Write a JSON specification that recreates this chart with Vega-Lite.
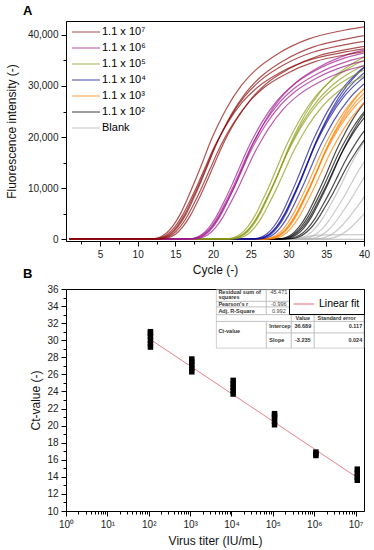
{
  "$schema": "https://vega.github.io/schema/vega-lite/v6.json",
  "padding": {"left": 4, "top": 4, "right": 4, "bottom": 2},
  "spacing": -9,
  "resolve": {"scale": {"color": "independent"}, "legend": {"color": "independent"}},
  "config": {
    "font": "Liberation Sans",
    "view": {"stroke": "black", "strokeWidth": 1},
    "axis": {"grid": false, "domainColor": "black", "tickColor": "black", "labelColor": "#222", "titleColor": "#111", "labelFontSize": 10, "titleFontSize": 12, "titleFontWeight": "normal", "labelOverlap": false, "labelFlush": false},
    "title": {"fontSize": 13, "fontWeight": "bold", "anchor": "start", "frame": "group", "color": "black"}
  },
  "datasets": {
    "curves": [
      {"g":"Blank","id":"g6","x":[1,40],"y":[0,0]},
      {"g":"Blank","id":"g7","x":[1,31,33,35,40],"y":[100,100,700,900,950]},
      {"g":"Blank","id":"g1","x":[1,30.5,31.5,32.5,33.5,34.5,35.5,36.5,37.5,38.5,39.5,40.5],"y":[100,100,260,850,2130,4080,6630,9350,12330,15300,17850,20150]},
      {"g":"Blank","id":"g2","x":[1,31.3,32.3,33.3,34.3,35.3,36.3,37.3,38.3,39.3,40.3],"y":[100,100,230,750,1880,3600,5850,8250,10880,13500,15750]},
      {"g":"Blank","id":"g3","x":[1,32.2,33.2,34.2,35.2,36.2,37.2,38.2,39.2,40.2],"y":[100,100,210,700,1750,3360,5460,7700,10150,12600]},
      {"g":"Blank","id":"g4","x":[1,33.2,34.2,35.2,36.2,37.2,38.2,39.2,40.2],"y":[100,100,180,600,1500,2880,4680,6600,8700]},
      {"g":"Blank","id":"g5","x":[1,34.3,35.3,36.3,37.3,38.3,39.3,40.3],"y":[100,100,150,500,1250,2400,3900,5500]},
      {"g":"1.1 x 10²","id":"f1","x":[1,28.4,29.4,30.4,31.4,32.4,33.4,34.4,35.4,36.4,37.4,38.4,40.4],"y":[100,100,290,980,2450,4700,7640,10780,14210,17640,20580,23230,27440]},
      {"g":"1.1 x 10²","id":"f2","x":[1,28.8,29.8,30.8,31.8,32.8,33.8,34.8,35.8,36.8,37.8,38.8,40.8],"y":[100,100,270,900,2250,4320,7020,9900,13050,16200,18900,21330,25200]},
      {"g":"1.1 x 10²","id":"f3","x":[1,29.1,30.1,31.1,32.1,33.1,34.1,35.1,36.1,37.1,38.1,39.1,41.1],"y":[100,100,290,950,2380,4560,7410,10450,13780,17100,19950,22520,26600]},
      {"g":"1.1 x 10²","id":"f4","x":[1,29.5,30.5,31.5,32.5,33.5,34.5,35.5,36.5,37.5,38.5,39.5,41.5],"y":[100,100,260,850,2130,4080,6630,9350,12330,15300,17850,20150,23800]},
      {"g":"1.1 x 10²","id":"f5","x":[1,29.8,30.8,31.8,32.8,33.8,34.8,35.8,36.8,37.8,38.8,39.8,41.8],"y":[100,100,240,800,2000,3840,6240,8800,11600,14400,16800,18960,22400]},
      {"g":"1.1 x 10²","id":"f6","x":[1,28.6,29.6,30.6,31.6,32.6,33.6,34.6,35.6,36.6,37.6,38.6,40.6],"y":[100,100,280,930,2330,4460,7250,10230,13490,16740,19530,22040,26040]},
      {"g":"1.1 x 10³","id":"e1","x":[1,26.5,27.5,28.5,29.5,30.5,31.5,32.5,33.5,34.5,35.5,36.5,38.5,40.5],"y":[100,100,290,970,2430,4660,7570,10670,14070,17460,20370,22990,27160,30070]},
      {"g":"1.1 x 10³","id":"e2","x":[1,26.8,27.8,28.8,29.8,30.8,31.8,32.8,33.8,34.8,35.8,36.8,38.8,40.8],"y":[100,100,280,930,2330,4460,7250,10230,13490,16740,19530,22040,26040,28830]},
      {"g":"1.1 x 10³","id":"e3","x":[1,27.1,28.1,29.1,30.1,31.1,32.1,33.1,34.1,35.1,36.1,37.1,39.1,41.1],"y":[100,100,300,1000,2500,4800,7800,11000,14500,18000,21000,23700,28000,31000]},
      {"g":"1.1 x 10³","id":"e4","x":[1,27.4,28.4,29.4,30.4,31.4,32.4,33.4,34.4,35.4,36.4,37.4,39.4,41.4],"y":[100,100,280,920,2300,4420,7180,10120,13340,16560,19320,21800,25760,28520]},
      {"g":"1.1 x 10³","id":"e5","x":[1,26.9,27.9,28.9,29.9,30.9,31.9,32.9,33.9,34.9,35.9,36.9,38.9,40.9],"y":[100,100,290,960,2400,4610,7490,10560,13920,17280,20160,22750,26880,29760]},
      {"g":"1.1 x 10⁴","id":"d1","x":[1,25.1,26.1,27.1,28.1,29.1,30.1,31.1,32.1,33.1,34.1,35.1,37.1,39.1,42.1],"y":[100,110,320,1050,2630,5040,8190,11550,15230,18900,22050,24890,29400,32550,35700]},
      {"g":"1.1 x 10⁴","id":"d2","x":[1,25.4,26.4,27.4,28.4,29.4,30.4,31.4,32.4,33.4,34.4,35.4,37.4,39.4,42.4],"y":[100,100,300,1000,2500,4800,7800,11000,14500,18000,21000,23700,28000,31000,34000]},
      {"g":"1.1 x 10⁴","id":"d3","x":[1,25.7,26.7,27.7,28.7,29.7,30.7,31.7,32.7,33.7,34.7,35.7,37.7,39.7,42.7],"y":[100,110,320,1070,2680,5140,8350,11770,15520,19260,22470,25360,29960,33170,36380]},
      {"g":"1.1 x 10⁴","id":"d4","x":[1,26,27,28,29,30,31,32,33,34,35,36,38,40,43],"y":[100,100,290,980,2450,4700,7640,10780,14210,17640,20580,23230,27440,30380,33320]},
      {"g":"1.1 x 10⁴","id":"d5","x":[1,25.5,26.5,27.5,28.5,29.5,30.5,31.5,32.5,33.5,34.5,35.5,37.5,39.5,42.5],"y":[100,100,310,1030,2580,4940,8030,11330,14940,18540,21630,24410,28840,31930,35020]},
      {"g":"1.1 x 10⁵","id":"c1","x":[1,21.6,22.6,23.6,24.6,25.6,26.6,27.6,28.6,29.6,30.6,31.6,33.6,35.6,38.6,42.6],"y":[100,100,300,1000,2500,4800,7800,11000,14500,18000,21000,23700,28000,31000,34000,36600]},
      {"g":"1.1 x 10⁵","id":"c2","x":[1,21.9,22.9,23.9,24.9,25.9,26.9,27.9,28.9,29.9,30.9,31.9,33.9,35.9,38.9,42.9],"y":[100,100,290,950,2380,4560,7410,10450,13780,17100,19950,22520,26600,29450,32300,34770]},
      {"g":"1.1 x 10⁵","id":"c3","x":[1,22.2,23.2,24.2,25.2,26.2,27.2,28.2,29.2,30.2,31.2,32.2,34.2,36.2,39.2,43.2],"y":[100,100,310,1030,2580,4940,8030,11330,14940,18540,21630,24410,28840,31930,35020,37700]},
      {"g":"1.1 x 10⁵","id":"c4","x":[1,22.5,23.5,24.5,25.5,26.5,27.5,28.5,29.5,30.5,31.5,32.5,34.5,36.5,39.5,43.5],"y":[100,100,280,930,2330,4460,7250,10230,13490,16740,19530,22040,26040,28830,31620,34040]},
      {"g":"1.1 x 10⁵","id":"c5","x":[1,22,23,24,25,26,27,28,29,30,31,32,34,36,39,43],"y":[100,100,290,980,2450,4700,7640,10780,14210,17640,20580,23230,27440,30380,33320,35870]},
      {"g":"1.1 x 10⁶","id":"b1","x":[1,16.5,17.5,18.5,19.5,20.5,21.5,22.5,23.5,24.5,25.5,26.5,28.5,30.5,33.5,37.5,41.5],"y":[100,100,290,970,2430,4660,7570,10670,14070,17460,20370,22990,27160,30070,32980,35500,36860]},
      {"g":"1.1 x 10⁶","id":"b2","x":[1,16.8,17.8,18.8,19.8,20.8,21.8,22.8,23.8,24.8,25.8,26.8,28.8,30.8,33.8,37.8,41.8],"y":[100,100,280,930,2330,4460,7250,10230,13490,16740,19530,22040,26040,28830,31620,34040,35340]},
      {"g":"1.1 x 10⁶","id":"b3","x":[1,17,18,19,20,21,22,23,24,25,26,27,29,31,34,38,42],"y":[100,100,300,990,2480,4750,7720,10890,14360,17820,20790,23460,27720,30690,33660,36230,37620]},
      {"g":"1.1 x 10⁶","id":"b4","x":[1,17.3,18.3,19.3,20.3,21.3,22.3,23.3,24.3,25.3,26.3,27.3,29.3,31.3,34.3,38.3,42.3],"y":[100,100,270,910,2280,4370,7100,10010,13200,16380,19110,21570,25480,28210,30940,33310,34580]},
      {"g":"1.1 x 10⁶","id":"b5","x":[1,16.7,17.7,18.7,19.7,20.7,21.7,22.7,23.7,24.7,25.7,26.7,28.7,30.7,33.7,37.7,41.7],"y":[100,100,290,950,2380,4560,7410,10450,13780,17100,19950,22520,26600,29450,32300,34770,36100]},
      {"g":"1.1 x 10⁷","id":"a1","x":[1,11.7,12.7,13.7,14.7,15.7,16.7,17.7,18.7,19.7,20.7,21.7,23.7,25.7,28.7,32.7,36.7,40.7],"y":[100,100,300,1100,2700,5100,8300,11800,15500,19300,22500,25400,30000,33200,36400,39200,40700,41700]},
      {"g":"1.1 x 10⁷","id":"a2","x":[1,12.2,13.2,14.2,15.2,16.2,17.2,18.2,19.2,20.2,21.2,22.2,24.2,26.2,29.2,33.2,37.2,41.2],"y":[100,100,300,1000,2500,4800,7800,11000,14500,18000,21000,23700,28000,31000,34000,36600,38000,39000]},
      {"g":"1.1 x 10⁷","id":"a3","x":[1,12.6,13.6,14.6,15.6,16.6,17.6,18.6,19.6,20.6,21.6,22.6,24.6,26.6,29.6,33.6,37.6,41.6],"y":[100,100,300,950,2400,4600,7400,10500,13800,17100,20000,22500,26600,29500,32300,34800,36100,37100]},
      {"g":"1.1 x 10⁷","id":"a4","x":[1,13,14,15,16,17,18,19,20,21,22,23,25,27,30,34,38,42],"y":[100,100,300,1000,2500,4700,7600,10800,14200,17600,20600,23200,27400,30400,33300,35900,37200,38200]},
      {"g":"1.1 x 10⁷","id":"a5","x":[1,12.4,13.4,14.4,15.4,16.4,17.4,18.4,19.4,20.4,21.4,22.4,24.4,26.4,29.4,33.4,37.4,41.4],"y":[100,100,300,1000,2600,4900,8000,11300,14900,18500,21600,24400,28800,31900,35000,37700,39100,40200]},
      {"g":"1.1 x 10⁷","id":"a6","x":[1,11.9,12.9,13.9,14.9,15.9,16.9,17.9,18.9,19.9,20.9,21.9,23.9,25.9,28.9,32.9,36.9,40.9],"y":[100,100,290,960,2400,4610,7490,10560,13920,17280,20160,22750,26880,29760,32640,35140,36480,37440]}
    ],
    "ct": [
      {"x":110,"y":29.2},{"x":110,"y":29.6},{"x":110,"y":30.0},{"x":110,"y":30.4},{"x":110,"y":30.8},{"x":110,"y":31.0},
      {"x":1100,"y":26.3},{"x":1100,"y":26.7},{"x":1100,"y":27.1},{"x":1100,"y":27.5},{"x":1100,"y":27.8},
      {"x":11000,"y":23.7},{"x":11000,"y":24.1},{"x":11000,"y":24.5},{"x":11000,"y":24.9},{"x":11000,"y":25.3},
      {"x":110000,"y":20.1},{"x":110000,"y":20.5},{"x":110000,"y":20.9},{"x":110000,"y":21.2},{"x":110000,"y":21.4},
      {"x":1100000,"y":16.5},{"x":1100000,"y":16.7},{"x":1100000,"y":16.9},
      {"x":11000000,"y":13.6},{"x":11000000,"y":14.0},{"x":11000000,"y":14.4},{"x":11000000,"y":14.9}
    ],
    "fit": [
      {"x":110,"y":30.09,"fit":"Linear fit"},
      {"x":11000000,"y":13.91,"fit":"Linear fit"}
    ],
    "cells": [
      {"x":4315,"x2":69700,"y":35.92,"y2":34.55},
      {"x":69700,"x2":280000,"y":35.92,"y2":34.55},
      {"x":4315,"x2":69700,"y":34.55,"y2":33.89},
      {"x":69700,"x2":280000,"y":34.55,"y2":33.89},
      {"x":4315,"x2":69700,"y":33.89,"y2":32.99},
      {"x":69700,"x2":280000,"y":33.89,"y2":32.99},
      {"x":4315,"x2":280000,"y":32.99,"y2":32.2},
      {"x":280000,"x2":1005000,"y":32.99,"y2":32.2},
      {"x":1005000,"x2":16000000,"y":32.99,"y2":32.2},
      {"x":4315,"x2":69700,"y":32.2,"y2":29.08},
      {"x":69700,"x2":280000,"y":32.2,"y2":30.84},
      {"x":280000,"x2":1005000,"y":32.2,"y2":30.84},
      {"x":1005000,"x2":16000000,"y":32.2,"y2":30.84},
      {"x":69700,"x2":280000,"y":30.84,"y2":29.08},
      {"x":280000,"x2":1005000,"y":30.84,"y2":29.08},
      {"x":1005000,"x2":16000000,"y":30.84,"y2":29.08}
    ],
    "tbl": [
      {"t":"Residual sum of","x":4830,"y":35.62,"kind":"label"},
      {"t":"squares","x":4830,"y":35.1,"kind":"label"},
      {"t":"Pearson's r","x":4830,"y":34.22,"kind":"label"},
      {"t":"Adj. R-Square","x":4830,"y":33.46,"kind":"label"},
      {"t":"Ct-value","x":4830,"y":31.1,"kind":"label"},
      {"t":"Intercep","x":82300,"y":31.7,"kind":"label"},
      {"t":"Slope","x":82300,"y":30.06,"kind":"label"},
      {"t":"45.471","x":139700,"y":35.62,"kind":"stat"},
      {"t":"-0.996","x":139700,"y":34.22,"kind":"stat"},
      {"t":"0.992","x":139700,"y":33.46,"kind":"stat"},
      {"t":"Value","x":530000,"y":32.58,"kind":"param"},
      {"t":"Standard error","x":3500000,"y":32.58,"kind":"param"},
      {"t":"36.689","x":530000,"y":31.7,"kind":"param"},
      {"t":"-3.235","x":530000,"y":30.06,"kind":"param"},
      {"t":"0.117","x":14500000,"y":31.7,"kind":"se"},
      {"t":"0.024","x":14500000,"y":30.06,"kind":"se"}
    ]
  },
  "vconcat": [
    {
      "width": 298,
      "height": 220,
      "title": {"text": "A", "dx": -43, "offset": 3},
      "data": {"name": "curves"},
      "transform": [{"flatten": ["x", "y"]}],
      "mark": {"type": "line", "interpolate": "monotone", "clip": true, "strokeWidth": 1.2, "opacity": 0.7},
      "encoding": {
        "x": {
          "field": "x", "type": "quantitative",
          "scale": {"domain": [0.5, 40], "nice": false, "zero": false},
          "axis": {
            "title": "Cycle (-)",
            "values": [2.5,5,7.5,10,12.5,15,17.5,20,22.5,25,27.5,30,32.5,35,37.5,40],
            "labelExpr": "datum.value % 5 == 0 ? format(datum.value, 'd') : ''",
            "labelOverlap": false,
            "tickSize": {"condition": {"test": "datum.value % 5 == 0", "value": 5}, "value": 3},
            "labelPadding": 3, "titlePadding": 5
          }
        },
        "y": {
          "field": "y", "type": "quantitative",
          "scale": {"domain": [-300, 42700], "nice": false, "zero": false},
          "axis": {
            "title": "Fluorescence intensity (-)",
            "values": [0,5000,10000,15000,20000,25000,30000,35000,40000],
            "labelExpr": "datum.value % 10000 == 0 ? format(datum.value, ',') : ''",
            "labelOverlap": false,
            "tickSize": {"condition": {"test": "datum.value % 10000 == 0", "value": 5}, "value": 3},
            "labelPadding": 3, "titlePadding": 9
          }
        },
        "color": {
          "field": "g", "type": "nominal",
          "scale": {
            "domain": ["1.1 x 10⁷","1.1 x 10⁶","1.1 x 10⁵","1.1 x 10⁴","1.1 x 10³","1.1 x 10²","Blank"],
            "range": ["#8b0a0a","#a0168f","#8c9a12","#10109a","#ff7f00","#000000","#b4b4b4"]
          },
          "legend": {
            "title": null, "orient": "top-left", "offset": 5, "padding": 0,
            "symbolType": "M-1,0H4.6", "symbolSize": 100, "symbolStrokeWidth": 1.5, "symbolOpacity": 0.5,
            "labelFontSize": 11, "labelColor": "black", "rowPadding": 5, "labelOffset": 19
          }
        },
        "detail": {"field": "id"}
      }
    },
    {
      "width": 298,
      "height": 222,
      "title": {"text": "B", "dx": -43, "offset": 3},
      "encoding": {
        "x": {
          "field": "x", "type": "quantitative",
          "scale": {"type": "log", "domain": [1, 16000000], "nice": false},
          "axis": {
            "title": "Virus titer (IU/mL)",
            "values": [1,2,3,4,5,6,7,8,9,10,20,30,40,50,60,70,80,90,100,200,300,400,500,600,700,800,900,1000,2000,3000,4000,5000,6000,7000,8000,9000,10000,20000,30000,40000,50000,60000,70000,80000,90000,100000,200000,300000,400000,500000,600000,700000,800000,900000,1000000,2000000,3000000,4000000,5000000,6000000,7000000,8000000,9000000,10000000],
            "labelExpr": "abs(log(datum.value)/LN10 - round(log(datum.value)/LN10)) < 0.001 ? '10' + ['⁰','¹','²','³','⁴','⁵','⁶','⁷'][round(log(datum.value)/LN10)] : ''",
            "labelOverlap": false,
            "tickSize": {"condition": {"test": "abs(log(datum.value)/LN10 - round(log(datum.value)/LN10)) < 0.001", "value": 5}, "value": 3},
            "labelPadding": 3, "titlePadding": 6
          }
        },
        "y": {
          "field": "y", "type": "quantitative",
          "scale": {"domain": [10, 36], "nice": false, "zero": false},
          "axis": {
            "title": "Ct-value (-)",
            "values": [10,11,12,13,14,15,16,17,18,19,20,21,22,23,24,25,26,27,28,29,30,31,32,33,34,35,36],
            "labelExpr": "datum.value % 2 == 0 ? format(datum.value, 'd') : ''",
            "labelOverlap": false,
            "tickSize": {"condition": {"test": "datum.value % 2 == 0", "value": 5}, "value": 3},
            "labelPadding": 3, "titlePadding": 4
          }
        }
      },
      "layer": [
        {
          "data": {"name": "fit"},
          "mark": {"type": "line", "strokeWidth": 1},
          "encoding": {
            "color": {
              "field": "fit", "type": "nominal",
              "scale": {"domain": ["Linear fit"], "range": ["#e8808c"]},
              "legend": {
                "title": null, "orient": "top-right", "offset": 0, "padding": 4,
                "strokeColor": "black", "fillColor": "white",
                "symbolType": "stroke", "symbolSize": 420, "symbolStrokeWidth": 1.2,
                "labelFontSize": 10.5, "labelColor": "black", "labelOffset": 4
              }
            }
          }
        },
        {
          "data": {"name": "ct"},
          "mark": {"type": "point", "shape": "square", "filled": true, "color": "black", "opacity": 1, "size": 30}
        },
        {
          "data": {"name": "cells"},
          "mark": {"type": "rect", "fill": "white", "stroke": "#b0b0b0", "strokeWidth": 0.6},
          "encoding": {
            "x2": {"field": "x2"},
            "y2": {"field": "y2"}
          }
        },
        {
          "data": {"name": "tbl"},
          "transform": [{"filter": "datum.kind == 'label'"}],
          "mark": {"type": "text", "align": "left", "baseline": "middle", "fontSize": 5.5, "fontWeight": "bold", "color": "#333"},
          "encoding": {"text": {"field": "t"}}
        },
        {
          "data": {"name": "tbl"},
          "transform": [{"filter": "datum.kind == 'stat'"}],
          "mark": {"type": "text", "align": "center", "baseline": "middle", "fontSize": 5.5, "color": "#444"},
          "encoding": {"text": {"field": "t"}}
        },
        {
          "data": {"name": "tbl"},
          "transform": [{"filter": "datum.kind == 'param'"}],
          "mark": {"type": "text", "align": "center", "baseline": "middle", "fontSize": 5.5, "fontWeight": "bold", "color": "#333"},
          "encoding": {"text": {"field": "t"}}
        },
        {
          "data": {"name": "tbl"},
          "transform": [{"filter": "datum.kind == 'se'"}],
          "mark": {"type": "text", "align": "right", "baseline": "middle", "fontSize": 5.5, "fontWeight": "bold", "color": "#333"},
          "encoding": {"text": {"field": "t"}}
        }
      ]
    }
  ]
}
